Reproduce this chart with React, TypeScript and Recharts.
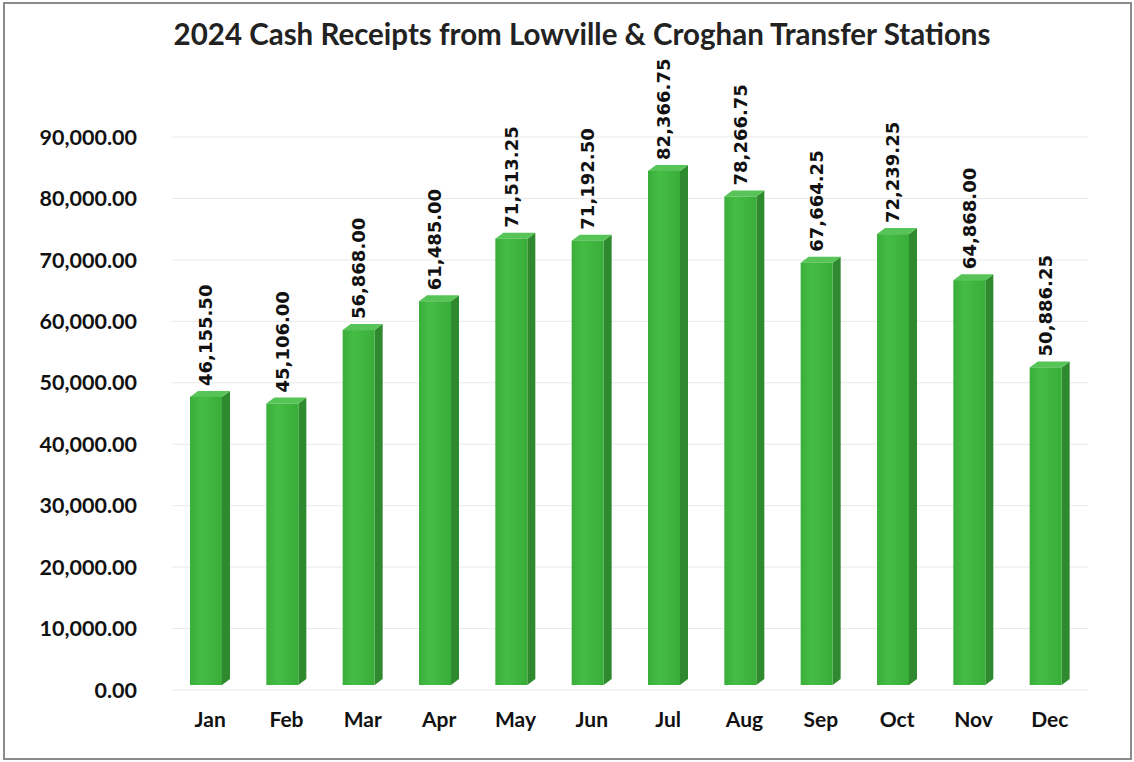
import React from 'react';
import { BarChart, Bar, XAxis, YAxis, CartesianGrid, LabelList } from 'recharts';

const months = ['Jan', 'Feb', 'Mar', 'Apr', 'May', 'Jun', 'Jul', 'Aug', 'Sep', 'Oct', 'Nov', 'Dec'];
const receipts = [46155.5, 45106.0, 56868.0, 61485.0, 71513.25, 71192.5, 82366.75, 78266.75, 67664.25, 72239.25, 64868.0, 50886.25];
const yTicks = [0, 10000, 20000, 30000, 40000, 50000, 60000, 70000, 80000, 90000];

const chartData = months.map((m, i) => ({ month: m, amount: receipts[i] }));

const DEPTH_X = 8;
const DEPTH_Y = 6;

const fmt = (v: number) =>
  v.toLocaleString('en-US', { minimumFractionDigits: 2, maximumFractionDigits: 2 });

// fake 3d column: front face, darker side, lighter top
const Column3D = (props: any) => {
  const { x, y, width, height } = props;
  if (height == null || height <= 0) return null;
  const fw = width - DEPTH_X;
  const side = `${x + fw},${y} ${x + fw + DEPTH_X},${y - DEPTH_Y} ${x + fw + DEPTH_X},${y + height - DEPTH_Y} ${x + fw},${y + height}`;
  const top = `${x},${y} ${x + DEPTH_X},${y - DEPTH_Y} ${x + fw + DEPTH_X},${y - DEPTH_Y} ${x + fw},${y}`;
  return (
    <g>
      <polygon points={side} fill="#2f8a2f" />
      <polygon points={top} fill="#56c456" />
      <rect x={x} y={y} width={fw} height={height} fill="url(#frontGrad)" />
    </g>
  );
};

const ValueLabel = (props: any) => {
  const { x, y, width, value } = props;
  const cx = x + (width - DEPTH_X) / 2;
  const ty = y - 11;
  return (
    <text
      x={cx}
      y={ty}
      transform={`rotate(-90, ${cx}, ${ty})`}
      textAnchor="start"
      dominantBaseline="central"
      fontFamily="DejaVu Sans"
      fontWeight="bold"
      fontSize={18}
      fill="#111"
    >
      {fmt(value)}
    </text>
  );
};

export default function App() {
  return (
    <div
      style={{
        position: 'absolute',
        left: 0,
        top: 0,
        width: 1134,
        height: 762,
        background: '#fff',
        fontFamily: 'Lato, sans-serif',
      }}
    >
      <div
        style={{
          position: 'absolute',
          left: 3,
          top: 2,
          width: 1125,
          height: 754,
          border: '2px solid #8a8a8a',
        }}
      />
      <div
        style={{
          position: 'absolute',
          left: 0,
          top: 16,
          width: 1164,
          textAlign: 'center',
          fontWeight: 'bold',
          fontSize: 29.5,
          color: '#222',
        }}
      >
        2024 Cash Receipts from Lowville &amp; Croghan Transfer Stations
      </div>
      <div style={{ position: 'absolute', left: 0, top: 0 }}>
        <BarChart
          width={1134}
          height={762}
          data={chartData}
          margin={{ top: 137, right: 46, bottom: 42, left: 0 }}
          barCategoryGap={0}
        >
          <defs>
            <linearGradient id="frontGrad" x1="0" y1="0" x2="1" y2="0">
              <stop offset="0%" stopColor="#3aae3a" />
              <stop offset="35%" stopColor="#45bd45" />
              <stop offset="100%" stopColor="#39ad39" />
            </linearGradient>
          </defs>
          <CartesianGrid vertical={false} stroke="#e8e8e8" />
          <XAxis
            dataKey="month"
            axisLine={false}
            tickLine={false}
            tickSize={0}
            tickMargin={22}
            tick={{ fontFamily: 'Lato', fontWeight: 'bold', fontSize: 21, fill: '#111' }}
          />
          <YAxis
            type="number"
            width={172}
            domain={[0, 90000]}
            allowDataOverflow
            ticks={yTicks}
            interval={0}
            axisLine={false}
            tickLine={false}
            tickSize={0}
            tickMargin={35}
            tickFormatter={fmt}
            tick={{ fontFamily: 'Lato', fontWeight: 'bold', fontSize: 21.5, fill: '#111' }}
          />
          <YAxis yAxisId="bars" type="number" hide domain={[-800, 87800]} allowDataOverflow />
          <Bar
            dataKey="amount"
            yAxisId="bars"
            barSize={40}
            shape={<Column3D />}
            isAnimationActive={false}
          >
            <LabelList dataKey="amount" content={<ValueLabel />} />
          </Bar>
        </BarChart>
      </div>
    </div>
  );
}
